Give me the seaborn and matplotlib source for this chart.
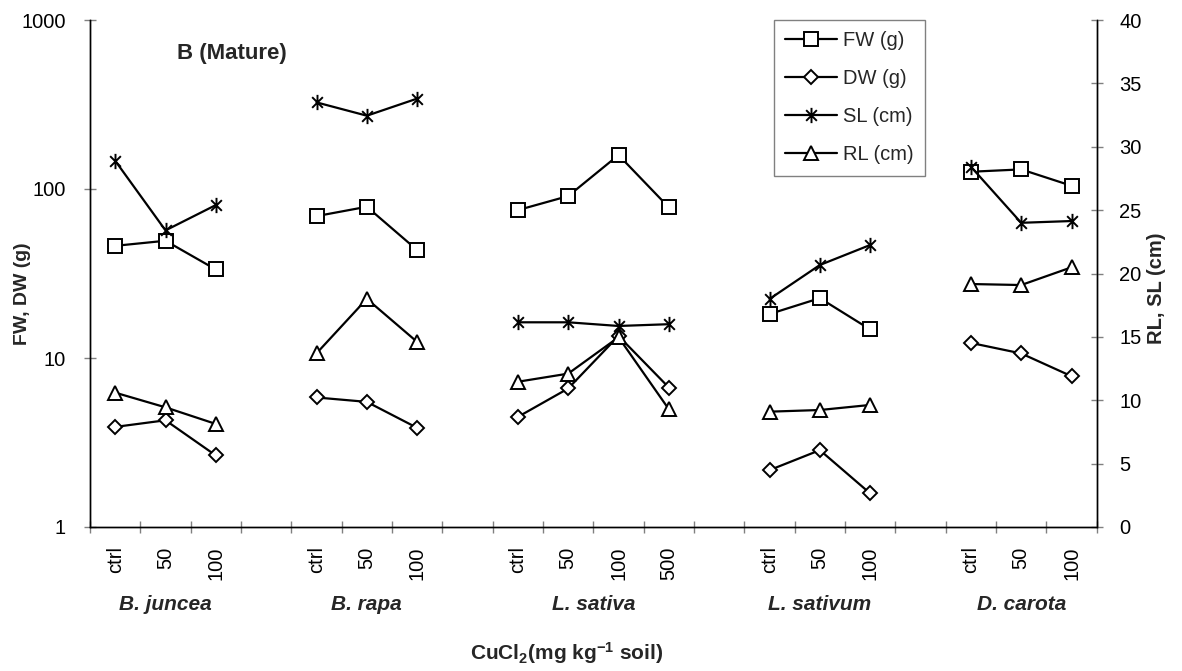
import matplotlib
matplotlib.use("Agg")
import numpy as np
import pandas as pd
import seaborn as sns
import matplotlib.pyplot as plt
from matplotlib.path import Path
from matplotlib.lines import Line2D
from matplotlib import transforms
from matplotlib.ticker import NullLocator, FixedLocator

# ---------------- data ----------------
species = ["B. juncea", "B. rapa", "L. sativa", "L. sativum", "D. carota"]
doses = [["ctrl", "50", "100"],
         ["ctrl", "50", "100"],
         ["ctrl", "50", "100", "500"],
         ["ctrl", "50", "100"],
         ["ctrl", "50", "100"]]
fw = [[46.1, 49.4, 33.4],
      [69.1, 78.5, 43.5],
      [75.0, 90.8, 158.8, 77.8],
      [18.2, 22.6, 14.75],
      [126.5, 130.6, 104.5]]
dw = [[3.91, 4.28, 2.65],
      [5.84, 5.50, 3.86],
      [4.48, 6.6, 13.5, 6.69],
      [2.17, 2.85, 1.58],
      [12.28, 10.64, 7.80]]
sl = [[28.9, 23.4, 25.4],
      [33.5, 32.45, 33.8],
      [16.15, 16.15, 15.86, 16.0],
      [17.99, 20.67, 22.25],
      [28.43, 24.0, 24.14]]
rl = [[10.6, 9.44, 8.13],
      [13.7, 18.0, 14.6],
      [11.46, 12.1, 14.97, 9.29],
      [9.1, 9.23, 9.63],
      [19.17, 19.09, 20.49]]
series_names = ["FW (g)", "DW (g)", "SL (cm)", "RL (cm)"]
left_ticks = [1, 10, 100, 1000]
right_ticks = [0, 5, 10, 15, 20, 25, 30, 35, 40]

# ---------------- build table ----------------
rows = []
slot = 0
group_centers = []
for si, sp in enumerate(species):
    start = slot
    for di, d in enumerate(doses[si]):
        rows.append(dict(species=sp, dose=d, pos=slot + 0.5,
                         FW=fw[si][di], DW=dw[si][di],
                         SL=sl[si][di], RL=rl[si][di]))
        slot += 1
    group_centers.append((start + slot) / 2.0)
    slot += 1
n_slots = slot - 1
df = pd.DataFrame(rows)

# ---------------- style ----------------
sns.set_theme(style="white")
plt.rcParams["font.family"] = ["Liberation Sans", "DejaVu Sans"]
plt.rcParams["mathtext.fontset"] = "custom"
plt.rcParams["mathtext.rm"] = "Liberation Sans:bold"
plt.rcParams["mathtext.bf"] = "Liberation Sans:bold"
plt.rcParams["mathtext.it"] = "Liberation Sans:bold"
plt.rcParams["mathtext.default"] = "bf"

star = Path([(-0.42, -0.42), (0.42, 0.42), (-0.42, 0.42), (0.42, -0.42), (0, -0.6), (0, 0.6)],
            [Path.MOVETO, Path.LINETO, Path.MOVETO, Path.LINETO, Path.MOVETO, Path.LINETO])

styles = {
    "FW (g)": dict(marker="s", markersize=9.5),
    "DW (g)": dict(marker="D", markersize=7),
    "SL (cm)": dict(marker=star, markersize=11),
    "RL (cm)": dict(marker="^", markersize=10.5),
}
common = dict(color="black", linewidth=1.6, markerfacecolor="white",
              markeredgecolor="black", markeredgewidth=1.4)

W, H = 1182, 671
fig = plt.figure(figsize=(W / 100, H / 100), dpi=100)
x0, x1, y0, y1 = 90, 1096.7, 20, 527
ax = fig.add_axes([x0 / W, 1 - y1 / H, (x1 - x0) / W, (y1 - y0) / H])
ax2 = ax.twinx()

col_of = {"FW (g)": "FW", "DW (g)": "DW", "SL (cm)": "SL", "RL (cm)": "RL"}
for name in series_names:
    target = ax if name in ("FW (g)", "DW (g)") else ax2
    for sp in species:
        sub = df[df["species"] == sp]
        sns.lineplot(data=sub, x="pos", y=col_of[name], ax=target, sort=False,
                     estimator=None, legend=False, **common, **styles[name])

# primary axis (log)
ax.set_yscale("log")
ax.set_ylim(1, 1000)
ax.yaxis.set_major_locator(FixedLocator(left_ticks))
ax.set_yticklabels([str(t) for t in left_ticks])
ax.yaxis.set_minor_locator(NullLocator())
ax.set_xlim(0, n_slots)
ax.set_xticks(np.arange(0, n_slots + 1))
ax.set_xticklabels([""] * (n_slots + 1))
ax.set_xticks(df["pos"].values, minor=True)
ax.set_xticklabels(df["dose"].values, minor=True, rotation=90)
ax.set_xlabel("")
ax.set_ylabel("")

tick_color = "#808080"
tick_size = 14.5
ax.tick_params(axis="y", which="major", left=True, direction="inout", length=8.5,
               width=1, color=tick_color, pad=13, labelsize=tick_size, labelcolor="black")
ax.tick_params(axis="x", which="major", bottom=True, direction="inout", length=8.5,
               width=1, color=tick_color)
ax.tick_params(axis="x", which="minor", bottom=True, labelbottom=True, length=0,
               pad=14, labelsize=tick_size, labelcolor="black")

ax2.set_ylim(0, 40)
ax2.set_yticks(right_ticks)
ax2.set_yticklabels([str(t) for t in right_ticks])
ax2.set_ylabel("")
ax2.tick_params(axis="y", which="major", right=True, direction="inout", length=8.5,
                width=1, color=tick_color, pad=12, labelsize=tick_size, labelcolor="black")

for a in (ax, ax2):
    a.grid(False)
    a.spines["top"].set_visible(False)
    for s in ("left", "right", "bottom"):
        a.spines[s].set_color("black")
        a.spines[s].set_linewidth(1.0)
ax.patch.set_visible(False)

# species labels
trans = transforms.blended_transform_factory(ax.transData, ax.transAxes)
for sp, c in zip(species, group_centers):
    ax.text(c, -(605 - y1) / (y1 - y0), sp, transform=trans, ha="center", va="center",
            fontsize=15, fontweight="bold", fontstyle="italic")

# axis titles
fig.text(567 / W, 1 - 653 / H, r"CuCl$_2$(mg kg$^{-1}$ soil)", ha="center", va="center",
         fontsize=15, fontweight="bold")
fig.text(23 / W, 1 - 294 / H, "FW, DW (g)", rotation=90, ha="center", va="center",
         fontsize=14, fontweight="bold")
fig.text(1157 / W, 1 - 288 / H, "RL, SL (cm)", rotation=90, ha="center", va="center",
         fontsize=14.5, fontweight="bold")
fig.text(232 / W, 1 - 53 / H, "B (Mature)", ha="center", va="center",
         fontsize=16, fontweight="bold")

# legend
handles = [Line2D([], [], **common, **styles[n]) for n in series_names]
leg = ax2.legend(handles, series_names, loc="upper left",
                 bbox_to_anchor=((774 - x0) / (x1 - x0), 1.0), borderaxespad=0,
                 fontsize=14.5, frameon=True, fancybox=False, shadow=False,
                 edgecolor="#808080", framealpha=1, handlelength=2.6,
                 handletextpad=0.3, labelspacing=0.95, borderpad=0.55)
leg.get_frame().set_linewidth(1.0)

fig.savefig("out.png", dpi=100)
